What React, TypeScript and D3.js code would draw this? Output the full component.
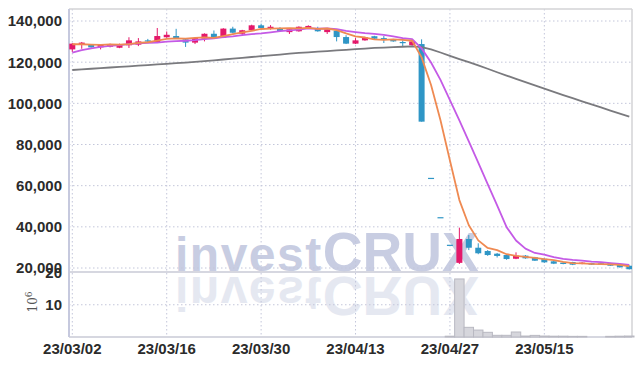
import React from "react";
import * as d3 from "d3";

const dates = [
  "23/03/02","23/03/03","23/03/06","23/03/07","23/03/08","23/03/09","23/03/10","23/03/13","23/03/14","23/03/15",
  "23/03/16","23/03/17","23/03/20","23/03/21","23/03/22","23/03/23","23/03/24","23/03/27","23/03/28","23/03/29",
  "23/03/30","23/03/31","23/04/03","23/04/04","23/04/05","23/04/06","23/04/07","23/04/10","23/04/11","23/04/12",
  "23/04/13","23/04/14","23/04/17","23/04/18","23/04/19","23/04/20","23/04/21","23/04/24","23/04/25","23/04/26",
  "23/04/27","23/04/28","23/05/02","23/05/03","23/05/04","23/05/08","23/05/09","23/05/10","23/05/11","23/05/12",
  "23/05/15","23/05/16","23/05/17","23/05/18","23/05/19","23/05/22","23/05/23","23/05/24","23/05/25","23/05/26",
];

const opens = [
  126200,128500,128500,127200,127500,127000,128200,128500,130600,129500,
  132100,132700,131100,129500,131400,133800,131900,136300,133800,135500,
  137900,136400,136300,134600,135000,136400,136300,134600,135300,132200,
  129000,130600,132600,131700,131100,129800,128200,128800,63800,44700,
  31300,22500,34100,29850,28250,26950,26300,24500,26000,25200,
  24500,23250,22600,22900,21950,22400,22300,22400,21800,21100,
];
const highs = [
  129300,129800,128800,128800,129000,129000,132100,131700,131300,136600,
  134900,136200,131300,132000,134000,135400,136500,137200,135700,138200,
  138700,138000,137000,136200,137400,137900,137200,136200,135500,133100,
  131700,132300,132800,132700,131300,130600,130300,131100,63800,44700,
  31300,39600,36000,32000,28700,27300,26500,27600,26300,25400,
  24700,23400,22800,23000,22800,22500,22400,22500,21900,21200,
];
const lows = [
  124900,126500,127000,126200,127200,126800,126900,127800,129300,129300,
  131900,131500,127400,128800,130100,132000,131700,134000,132700,135300,
  136400,135800,134900,133700,134800,136200,134800,133700,130100,128800,
  128800,130400,131200,129300,129900,127400,128000,91100,63800,44700,
  31300,21950,28700,26700,25900,25100,24000,24300,24500,23400,
  22500,21900,21800,21400,21800,21500,21600,21000,20200,19300,
];
const closes = [
  129000,129500,127200,128500,128800,128800,130600,130100,130100,132700,
  133300,131700,129500,131700,133800,132200,136300,134300,135500,137900,
  136600,137200,135100,136000,137200,137600,135000,136000,132200,129000,
  130600,132100,131400,131100,130100,129300,130100,91100,63800,44700,
  31300,34100,29850,27150,26300,25850,24350,26000,24700,23550,
  22750,22100,21950,21600,22600,21600,21800,21100,20350,19400,
];
// volume, millions of shares
const volumes = [
  0.03,0.02,0.02,0.03,0.02,0.02,0.04,0.03,0.02,0.05,
  0.03,0.03,0.03,0.02,0.03,0.02,0.04,0.03,0.02,0.03,
  0.03,0.02,0.02,0.02,0.03,0.02,0.02,0.02,0.03,0.03,
  0.02,0.02,0.02,0.02,0.02,0.02,0.02,0.05,0.02,0.05,
  0.25,18.0,3.0,2.15,1.45,0.52,0.52,1.55,0.3,0.5,
  0.3,0.25,0.25,0.2,0.2,0.03,0.03,0.2,0.25,0.3,
];
// moving-average values before enough history is available
const ma5Lead = [128700, 128700, 128500, 128400];
const ma10Lead = [124600, 125800, 126700, 127400, 127900, 128300, 128800, 129100, 129400];
// 60-day moving average
const ma60 = [
  116200,116500,116800,117100,117400,117700,118000,118300,118600,118900,
  119200,119500,119800,120100,120500,120900,121300,121700,122100,122500,
  122900,123300,123700,124100,124500,124800,125100,125400,125700,126000,
  126300,126600,126900,127100,127300,127500,127700,127300,126200,124700,
  123100,121500,120000,118400,116800,115100,113500,111900,110300,108700,
  107100,105600,104000,102500,101000,99500,98000,96500,95000,93500,
];
const priceTicks = [20000, 40000, 60000, 80000, 100000, 120000, 140000];
const volTicks = [10, 20];
const dateTickIdx = [0, 10, 20, 30, 40, 50];

const movingAvg = (n: number, lead: number[]) =>
  closes.map((c, i) => (i < n - 1 ? lead[i] : (d3.mean(closes.slice(i - n + 1, i + 1)) as number)));

const ma5 = movingAvg(5, ma5Lead);
const ma10 = movingAvg(10, ma10Lead);

const W = 642, H = 366;
const L = 69, R = 632, T = 9, MB = 272, VB = 337;

const UP = "#e4186a";
const DOWN = "#2f96c6";
const GRID = "#c3c6da";
const FONT = "'Liberation Sans Narrow', 'Liberation Sans', sans-serif";
const WM_FONT = "'Liberation Sans', Arial, sans-serif";

function Watermark({ fill }: { fill: string }) {
  return (
    <text x={175} y={270.5} fill={fill} fontFamily={WM_FONT} fontWeight={700}>
      <tspan fontSize={48} letterSpacing={1.5}>invest</tspan>
      <tspan fontSize={55}>CRUX</tspan>
    </text>
  );
}

export default function App() {
  const x = d3.scaleLinear().domain([0, 59]).range([72.3, 629.3]);
  const y = d3.scaleLinear().domain([20000, 140000]).range([268, 21]);
  const yv = d3.scaleLinear().domain([0, 20]).range([VB, 272.5]);
  const line = (arr: number[]) =>
    d3.line<number>().x((_, i) => x(i)).y((d) => y(d))(arr) as string;
  const fmt = d3.format(",");
  const step = x(1) - x(0);
  const bw = 6;

  return (
    <svg width={W} height={H} style={{ position: "absolute", left: 0, top: 0, background: "#fff" }}
      fontFamily={FONT}>
      <defs>
        <clipPath id="mainClip"><rect x={L} y={T} width={R - L} height={MB - T} /></clipPath>
        <clipPath id="volClip"><rect x={L} y={MB} width={R - L} height={VB - MB} /></clipPath>
      </defs>
      {/* watermark */}
      <g clipPath="url(#mainClip)">
        <Watermark fill="#c8cde2" />
      </g>
      <g clipPath="url(#volClip)">
        <g transform={`translate(0,${2 * 273.5}) scale(1,-1)`}>
          <Watermark fill="#e5e8f1" />
        </g>
      </g>
      {/* grid */}
      <g stroke={GRID} strokeWidth={1} strokeDasharray="1.5,2.5">
        {priceTicks.map((t) => (
          <line key={"h" + t} x1={L} x2={R} y1={y(t)} y2={y(t)} />
        ))}
        {volTicks.slice(0, 1).map((t) => (
          <line key={"v" + t} x1={L} x2={R} y1={yv(t)} y2={yv(t)} />
        ))}
        {dateTickIdx.map((i) => (
          <line key={"x" + i} x1={x(i)} x2={x(i)} y1={T} y2={VB} />
        ))}
      </g>
      {/* frame */}
      <g fill="none">
        <line x1={L} x2={R} y1={T} y2={T} stroke="#d3d3d6" strokeWidth={1.5} />
        <line x1={R} x2={R} y1={T} y2={VB} stroke="#d3d3d6" strokeWidth={1.5} />
        <line x1={L} x2={R} y1={MB} y2={MB} stroke="#c9cad6" strokeWidth={1.5} />
        <line x1={L} x2={R} y1={VB} y2={VB} stroke="#c9cad6" strokeWidth={1.5} />
        <line x1={L} x2={L} y1={T} y2={VB} stroke="#c6c9de" strokeWidth={2} />
      </g>
      {/* volume */}
      <g>
        {volumes.map((v, i) =>
          v > 0.1 ? (
            <rect key={i} x={x(i) - step / 2} y={yv(v)} width={step} height={VB - yv(v)}
              fill="#d6d6dc" stroke="#b9b9c2" strokeWidth={1} />
          ) : null
        )}
      </g>
      {/* candles */}
      <g clipPath="url(#mainClip)">
        {closes.map((c, i) => {
          const o = opens[i];
          const prev = i > 0 ? closes[i - 1] : o;
          const up = c > o || (c === o && c >= prev);
          const col = up ? UP : DOWN;
          const top = y(Math.max(o, c));
          const bot = y(Math.min(o, c));
          return (
            <g key={i}>
              <line x1={x(i)} x2={x(i)} y1={y(highs[i])} y2={y(lows[i])} stroke={col} strokeWidth={1} />
              <rect x={x(i) - bw / 2} y={top} width={bw} height={Math.max(1.2, bot - top)} fill={col} />
            </g>
          );
        })}
      </g>
      {/* moving averages */}
      <g clipPath="url(#mainClip)" fill="none" strokeWidth={1.8} strokeLinejoin="round">
        <path d={line(ma60)} stroke="#7a7a7e" />
        <path d={line(ma10)} stroke="#c45ae6" />
        <path d={line(ma5)} stroke="#ef8a52" />
      </g>
      {/* y labels */}
      <g fontSize={15} fill="#2b2b2b" textAnchor="end" fontWeight={700}>
        {priceTicks.map((t) => (
          <text key={t} x={62} y={y(t)} dy="0.36em">{fmt(t)}</text>
        ))}
        {volTicks.map((t) => (
          <text key={"vl" + t} x={62} y={yv(t)} dy="0.36em">{t}</text>
        ))}
      </g>
      <text transform={`translate(37,302) rotate(-90)`} fontFamily="'DejaVu Serif', serif" fontSize={12}
        fill="#555" textAnchor="middle">
        10<tspan dy={-5} fontSize={9}>6</tspan>
      </text>
      {/* x labels */}
      <g fontSize={15} fill="#2b2b2b" textAnchor="middle" fontWeight={700}>
        {dateTickIdx.map((i) => (
          <text key={i} x={x(i)} y={354}>{dates[i]}</text>
        ))}
      </g>
    </svg>
  );
}
